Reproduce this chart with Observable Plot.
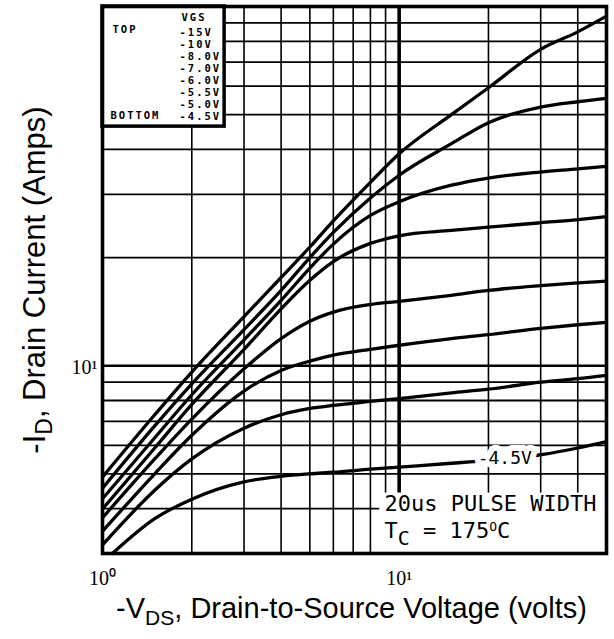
<!DOCTYPE html>
<html>
<head>
<meta charset="utf-8">
<script src="https://cdn.jsdelivr.net/npm/d3@7"></script>
<script src="https://cdn.jsdelivr.net/npm/@observablehq/plot@0.6"></script>
<style>
  html, body { margin: 0; padding: 0; background: #fff; }
  #chart svg { display: block; }
</style>
</head>
<body>
<div id="chart"></div>
<script>
// ---- data ----
const vgsLabels = ["-15V", "-10V", "-8.0V", "-7.0V", "-6.0V", "-5.5V", "-5.0V", "-4.5V"];
const vdsCommon = [1, 1.5, 2, 3, 4, 5, 6, 8, 10, 15, 20, 30, 40, 50];
const vdsLow    = [1.08, 1.5, 2, 3, 4, 5, 6, 8, 10, 15, 20, 30, 40, 50];
const id15  = [4.9, 7.3, 9.6, 13.7, 17.6, 21.4, 25.3, 32.4, 38.9, 50, 59.4, 76, 85, 94];
const id10  = [4.56, 6.8, 8.9, 12.6, 16.2, 20, 23.5, 29.3, 33.9, 41.5, 47.5, 52.5, 54.3, 55.5];
const id8   = [4.26, 6.3, 8.3, 11.8, 15.2, 18.7, 21.8, 26.2, 28.6, 31.8, 33.3, 34.6, 35.3, 35.9];
const id7   = [3.99, 5.9, 7.8, 11.1, 14.4, 17.3, 19.5, 21.9, 23, 23.8, 24.3, 25, 25.5, 26];
const id6   = [3.77, 5.5, 7.1, 9.8, 11.9, 13.3, 14.1, 14.8, 15.1, 15.7, 16.2, 16.7, 17, 17.2];
const id55  = [3.46, 5.0, 6.4, 8.5, 9.7, 10.3, 10.7, 11.1, 11.4, 11.9, 12.2, 12.7, 13, 13.2];
const id5   = [3.17, 4.5, 5.5, 6.7, 7.3, 7.6, 7.75, 7.95, 8.1, 8.4, 8.6, 9.0, 9.2, 9.4];
const id45  = [3.0, 3.75, 4.25, 4.75, 4.92, 5.0, 5.05, 5.15, 5.22, 5.35, 5.45, 5.65, 5.9, 6.15];

const xTicks = [1, 10];
const yTicks = [10];
const tickLabels = new Map([[1, "10\u2070"], [10, "10\u00B9"]]);
const xGrid = [2, 3, 4, 5, 6, 7, 8, 9, 20, 30, 40];
const xMajor = [10];
const yGrid = [4, 5, 6, 7, 8, 9, 20, 30, 40, 50, 60, 70, 80, 90];
const yMajor = [10];

const legendTitle = ["VGS"];
const legendTop = ["TOP"];
const legendBottom = ["BOTTOM"];
const noteLine1 = ["20us PULSE WIDTH"];
const noteLine2 = ["TC = 175OC"];
const curveLabel = [{vds: 22.7, id: 5.52, text: "-4.5V"}];
const xTitle = ["-VDS, Drain-to-Source Voltage (volts)"];
const yTitle = ["-ID, Drain Current (Amps)"];

// annotation boxes (data units)
const legendBox = [{x1: 1, x2: 2.58, y1: 46.3, y2: 100}];
const noteBox = [{x1: 8.6, x2: 50, y1: 3, y2: 4.42}];

// ---- build table ----
const curvesY = [id15, id10, id8, id7, id6, id55, id5, id45];
const curvesX = [vdsCommon, vdsCommon, vdsCommon, vdsCommon, vdsCommon, vdsCommon, vdsCommon, vdsLow];
const rows = [];
vgsLabels.forEach((v, i) => curvesX[i].forEach((x, j) => rows.push({vgs: v, vds: x, id: curvesY[i][j]})));

const mono = "'DejaVu Sans Mono', 'Liberation Mono', monospace";
const sans = "'Liberation Sans', Arial, sans-serif";
const serif = "'Liberation Serif', 'Times New Roman', serif";

const svg = Plot.plot({
  width: 614,
  height: 639,
  marginLeft: 102,
  marginRight: 8,
  marginTop: 6,
  marginBottom: 86,
  style: {fontFamily: serif, fontSize: "17px", color: "#000", background: "#fff", overflow: "visible"},
  x: {type: "log", domain: [1, 50], axis: null},
  y: {type: "log", domain: [3, 100], axis: null},
  marks: [
    Plot.ruleX(xGrid, {stroke: "#000", strokeWidth: 1.6}),
    Plot.ruleX(xMajor, {stroke: "#000", strokeWidth: 3.6}),
    Plot.ruleY(yGrid, {stroke: "#000", strokeWidth: 1.8}),
    Plot.ruleY(yMajor, {stroke: "#000", strokeWidth: 2.4}),
    Plot.line(rows, {x: "vds", y: "id", z: "vgs", stroke: "#000", strokeWidth: 3.3, curve: "monotone-x"}),
    Plot.rect(noteBox, {x1: "x1", x2: "x2", y1: "y1", y2: "y2", fill: "#fff"}),
    Plot.rect(legendBox, {x1: "x1", x2: "x2", y1: "y1", y2: "y2", fill: "#fff", stroke: "#000", strokeWidth: 3.5}),
    // -4.5V curve label with white halo
    Plot.text(curveLabel, {x: "vds", y: "id", text: "text", fontFamily: mono, fontSize: 18, fill: "#fff", stroke: "#fff", strokeWidth: 12}),
    Plot.text(curveLabel, {x: "vds", y: "id", text: "text", fontFamily: mono, fontSize: 18, fill: "#000"}),
    Plot.frame({stroke: "#000", strokeWidth: 3.6}),
    // axis tick labels
    Plot.text(xTicks, {x: d => d, text: d => tickLabels.get(d), frameAnchor: "bottom", lineAnchor: "top", dy: 17, textAnchor: "middle", fontFamily: serif, fontSize: 20, fill: "#000"}),
    Plot.text(yTicks, {y: d => d, text: d => tickLabels.get(d), frameAnchor: "left", lineAnchor: "middle", dx: -5, dy: 2, textAnchor: "end", fontFamily: serif, fontSize: 20, fill: "#000"}),
    // legend
    Plot.text(legendTitle, {text: d => d, frameAnchor: "top-left", dx: 79, dy: 7, lineAnchor: "top", textAnchor: "start", fontFamily: mono, fontWeight: "bold", fontSize: 10.5, fill: "#000"}),
    Plot.text([vgsLabels.join("\n")], {text: d => d, frameAnchor: "top-left", dx: 77, dy: 20.5, lineAnchor: "top", textAnchor: "start", lineHeight: 1.15, fontFamily: mono, fontWeight: "bold", fontSize: 10.5, fill: "#000"}),
    Plot.text(legendTop, {text: d => d, frameAnchor: "top-left", dx: 10, dy: 19, lineAnchor: "top", textAnchor: "start", fontFamily: mono, fontWeight: "bold", fontSize: 10.5, fill: "#000"}),
    Plot.text(legendBottom, {text: d => d, frameAnchor: "top-left", dx: 8, dy: 105, lineAnchor: "top", textAnchor: "start", fontFamily: mono, fontWeight: "bold", fontSize: 10.5, fill: "#000"}),
    // test conditions note
    Plot.text(noteLine1, {text: d => d, frameAnchor: "bottom-left", dx: 282, dy: -43, lineAnchor: "bottom", textAnchor: "start", fontFamily: mono, fontSize: 22, fill: "#000"}),
    Plot.text(noteLine2, {text: d => d, frameAnchor: "bottom-left", dx: 282, dy: -16, lineAnchor: "bottom", textAnchor: "start", fontFamily: mono, fontSize: 22, fill: "#000"}),
    // axis titles
    Plot.text(xTitle, {text: d => d, frameAnchor: "bottom", dx: -3, dy: 64, lineAnchor: "bottom", textAnchor: "middle", fontFamily: sans, fontSize: 29, fill: "#000"}),
    Plot.text(yTitle, {text: d => d, frameAnchor: "left", rotate: -90, dx: -58, lineAnchor: "bottom", textAnchor: "middle", fontFamily: sans, fontSize: 31, fill: "#000"})
  ]
});

// letter spacing for plotter-style legend text (font-size may sit on the mark's group)
d3.select(svg).selectAll("[font-size]").each(function() {
  if (this.getAttribute("font-size") === "10.5") this.setAttribute("letter-spacing", "2");
});

// rich text: subscripts / superscripts
function rich(plain, parts) {
  d3.select(svg).selectAll("text").each(function() {
    if (this.textContent !== plain) return;
    const t = d3.select(this);
    t.selectAll("*").remove();
    t.text(null);
    let shift = 0;
    for (const p of parts) {
      const ts = t.append("tspan").text(p.s);
      const target = p.shift || 0;
      if (target !== shift) { ts.attr("dy", target - shift); shift = target; }
      if (p.size) ts.attr("font-size", p.size);
    }
  });
}
rich(xTitle[0], [{s: "-V"}, {s: "DS", shift: 7, size: "21px"}, {s: ", Drain-to-Source Voltage (volts)", shift: 0}]);
rich(yTitle[0], [{s: "-I"}, {s: "D", shift: 7, size: "23px"}, {s: ", Drain Current (Amps)", shift: 0}]);
rich(noteLine2[0], [{s: "T"}, {s: "C", shift: 7, size: "20px"}, {s: " = 175", shift: 0}, {s: "O", shift: -7, size: "13px"}, {s: "C", shift: 0}]);

document.getElementById("chart").appendChild(svg);
</script>
</body>
</html>
